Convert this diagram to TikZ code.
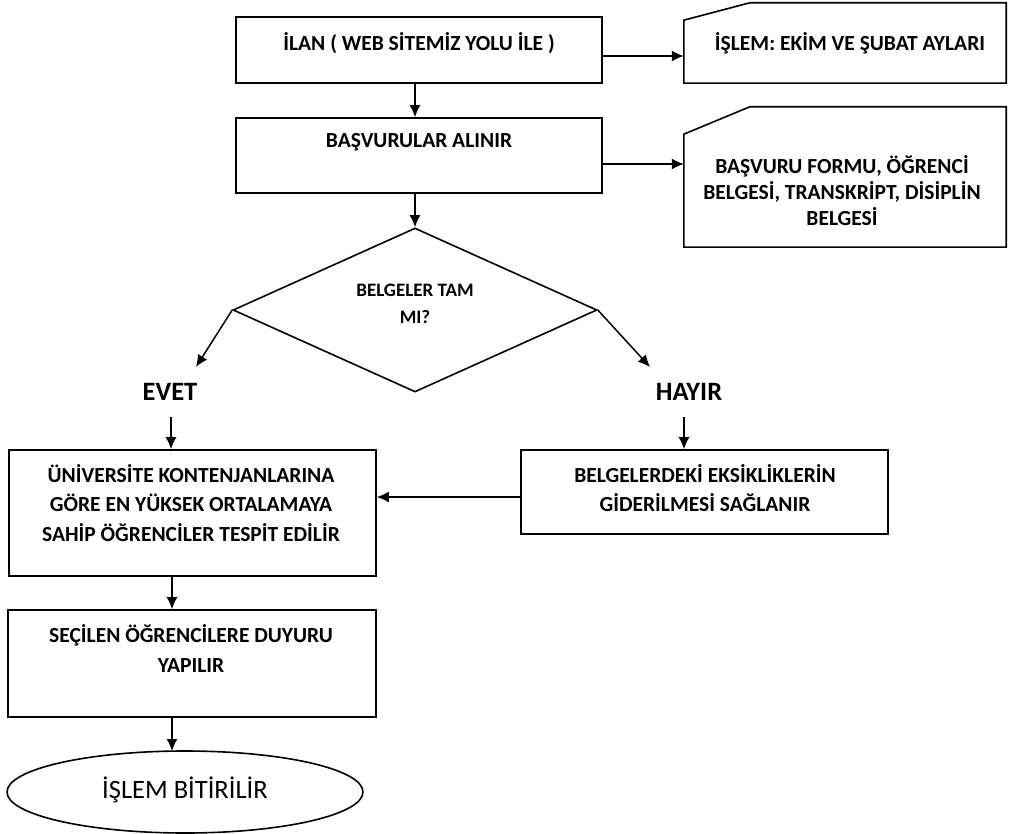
\documentclass[tikz,border=0pt]{standalone}
\usepackage{fontspec}
\setmainfont{Carlito}
\usetikzlibrary{arrows.meta,shapes.geometric}
\begin{document}
\begin{tikzpicture}[x=1pt,y=-1pt,
  box/.style={draw,line width=1.6pt,rectangle,inner sep=0pt},
  ghost/.style={rectangle,inner sep=0pt,draw=none},
  outl/.style={draw,line width=1.6pt,line join=miter},
  txt/.style={font=\bfseries\fontsize{21.5}{29.5}\selectfont,align=center,inner sep=0pt},
  big/.style={font=\bfseries\fontsize{26.5}{30}\selectfont,inner sep=0pt},
  arr/.style={line width=1.5pt,-{Latex[length=12pt,width=11pt]}}]
\useasboundingbox (0,0) rectangle (1009,834);
% main boxes
\node[box,minimum width=366pt,minimum height=66pt] (b1) at (419,50) {};
\node[box,minimum width=366pt,minimum height=75pt] (b2) at (419,155.5) {};
\node[draw,line width=1.6pt,diamond,inner sep=0pt,minimum width=364pt,minimum height=164pt] (dia) at (415,310) {};
\node[box,minimum width=367pt,minimum height=126pt] (b3) at (192.5,513) {};
\node[box,minimum width=367pt,minimum height=84pt] (b4) at (704.5,492) {};
\node[box,minimum width=368pt,minimum height=107pt] (b5) at (192,663.5) {};
\node[draw,line width=1.6pt,ellipse,inner sep=0pt,minimum width=356pt,minimum height=82pt] (ell) at (185,792) {};
% documents
\node[ghost,minimum width=322pt,minimum height=80pt] (d1) at (845,43) {};
\draw[outl] (d1.south west) -- ++(0,-63) -- ([xshift=66pt]d1.north west) -- (d1.north east) -- (d1.south east) -- cycle;
\node[ghost,minimum width=322pt,minimum height=140pt] (d2) at (845,177) {};
\draw[outl] (d2.south west) -- ++(0,-113) -- ([xshift=66pt]d2.north west) -- (d2.north east) -- (d2.south east) -- cycle;
% texts
\node[txt] (t1) at (419,43) {İLAN ( WEB SİTEMİZ YOLU İLE )};
\node[txt] (t2) at (419,142) {BAŞVURULAR ALINIR};
\node[txt] (t3) at (850,43) {İŞLEM: EKİM VE ŞUBAT AYLARI};
\node[txt,font=\bfseries\fontsize{21.5}{26}\selectfont] (t4) at (842,191) {BAŞVURU FORMU, ÖĞRENCİ\\BELGESİ, TRANSKRİPT, DİSİPLİN\\BELGESİ};
\node[txt,font=\bfseries\fontsize{19}{27}\selectfont] (t5) at (415,303.5) {BELGELER TAM\\MI?};
\node[txt] (t6) at (191,503) {ÜNİVERSİTE KONTENJANLARINA\\GÖRE EN YÜKSEK ORTALAMAYA\\SAHİP ÖĞRENCİLER TESPİT EDİLİR};
\node[txt] (t7) at (705,488) {BELGELERDEKİ EKSİKLİKLERİN\\GİDERİLMESİ SAĞLANIR};
\node[txt] (t8) at (191,648.5) {SEÇİLEN ÖĞRENCİLERE DUYURU\\YAPILIR};
\node[big] (evet) at (170,392) {EVET};
\node[big] (hayir) at (689,392) {HAYIR};
\node[font=\fontsize{26.5}{30}\selectfont,inner sep=0pt] (t9) at (185,790) {İŞLEM BİTİRİLİR};
% connectors
\coordinate (e1) at (196,367);
\coordinate (h1) at (650,367);
\coordinate (e2) at (171,417);
\coordinate (h2) at (684,417);
\draw[arr] (dia.north |- b1.south) -- (dia.north |- b2.north);
\draw[arr] (dia.north |- b2.south) -- (dia.north);
\draw[arr] ([yshift=-6pt]b1.east) -- ([yshift=-6pt]b1.east -| d1.west);
\draw[arr] ([yshift=-8.5pt]b2.east) -- ([yshift=-8.5pt]b2.east -| d2.west);
\draw[arr] (dia.west) -- (e1);
\draw[arr] (dia.east) -- (h1);
\draw[arr] (e2) -- (e2 |- b3.north);
\draw[arr] (h2) -- (h2 |- b4.north);
\draw[arr] ([yshift=-5pt]b4.west) -- ([yshift=-5pt]b4.west -| b3.east);
\draw[arr] (172,0 |- b3.south) -- (172,0 |- b5.north);
\draw[arr] (172,0 |- b5.south) -- (172,751);
\end{tikzpicture}
\end{document}
